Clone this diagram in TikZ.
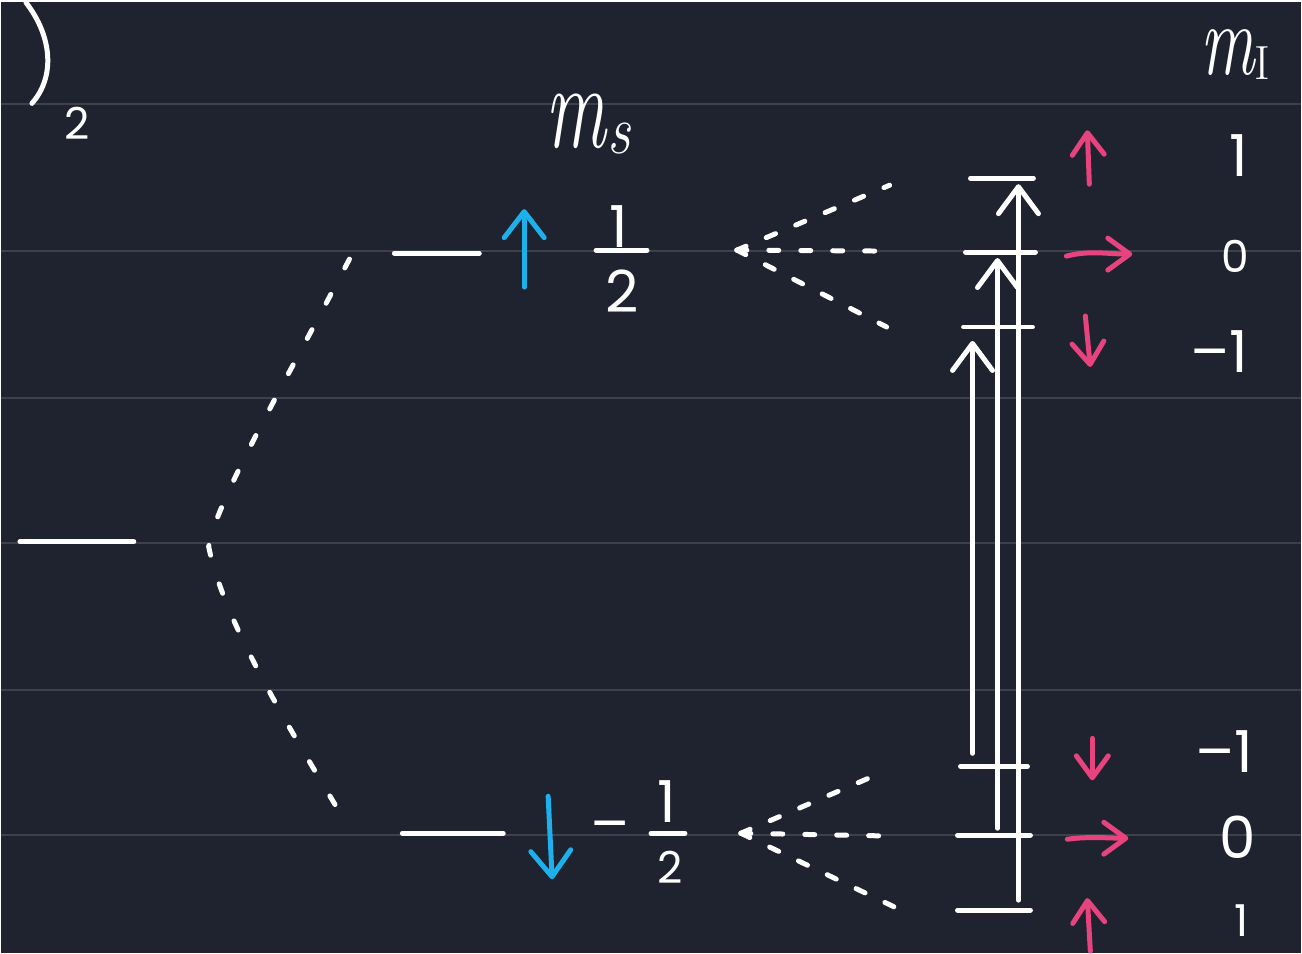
\documentclass[tikz,border=0pt]{standalone}
\usepackage{fontspec}
\setmainfont{Poppins}
\newfontfamily\mfont{Latin Modern Roman}
\usetikzlibrary{arrows.meta}
\definecolor{bg}{HTML}{1F2330}
\definecolor{ruleline}{HTML}{3D414C}
\definecolor{spinblue}{HTML}{1DB0EA}
\definecolor{nucpink}{HTML}{E6437F}
\begin{document}
\begin{tikzpicture}[x=1pt,y=-1pt,
  pen/.style={white,line width=5pt,line cap=round},
  lvl/.style={pen},
  dcurve/.style={pen,dash pattern=on 10pt off 30pt},
  dfan/.style={pen,dash pattern=on 10pt off 22pt},
  bighead/.style={-{Straight Barb[length=27pt,width=40pt,round]}},
  bluearrow/.style={spinblue,line width=5pt,line cap=round,-{Straight Barb[length=26pt,width=40pt,round]}},
  pinkarrow/.style={nucpink,line width=5pt,line cap=round,-{Straight Barb[length=22pt,width=32pt,round]}},
  txt/.style={text=white,inner sep=0pt,font=\fontsize{58}{60}\selectfont},
  small/.style={text=white,inner sep=0pt,font=\fontsize{44}{46}\selectfont},
  mlabel/.style={text=white,inner sep=0pt,font=\mfont}]
% background and ruled lines
\fill[bg] (0,0) rectangle (1302,952);
\foreach \yy in {102,249,396,541,689,834}
  \draw[ruleline,line width=2pt] (0,\yy) -- (1302,\yy);
% parenthesis and subscript
\draw[pen] (25,0) .. controls (52,35) and (54,75) .. (31,101);
\node[small] (two) at (76,121) {2};
% m_s and m_I
\node[mlabel] (ms) at (588,122) {\scalebox{1}[1.6]{\fontsize{76}{80}\selectfont\itshape m}\,\raisebox{-6pt}{\scalebox{1}[1.2]{\fontsize{58}{60}\selectfont\itshape s}}};
\node[mlabel] (mI) at (1236,52) {\scalebox{1}[1.5]{\fontsize{68}{70}\selectfont\itshape m}\raisebox{-5pt}{\fontsize{48}{48}\selectfont I}};
% left level
\draw[lvl] (19,540) -- (133,540);
% electron levels
\draw[lvl] (394,251) coordinate (up-l) -- (479,251) coordinate (up-r);
\draw[lvl] (402,832) coordinate (dn-l) -- (503,832) coordinate (dn-r);
% dashed splitting curve
\coordinate (ctop) at (349,257);
\coordinate (cmid) at (208,545);
\coordinate (cbot) at (349,828);
\draw[dcurve] (ctop) .. controls (290,370) and (215,500) .. (cmid)
                     .. controls (225,630) and (310,760) .. (cbot);
% blue spin arrows
\coordinate (bu0) at (524,285); \coordinate (bu1) at (524,207);
\draw[bluearrow] (bu0) -- (bu1);
\coordinate (bd0) at (548,795); \coordinate (bd1) at (552,878);
\draw[bluearrow] (bd0) -- (bd1);
% fractions
\node[txt] (half-1) at (619,224) {1};
\draw[pen] (596,248) -- (647,248);
\node[txt] (half-2) at (622,289) {2};
\node[txt] (mhalf-minus) at (610,832) {–};
\node[txt] (mhalf-1) at (667,800) {1};
\draw[pen] (651,832) -- (685,832);
\node[small] (mhalf-2) at (670,866) {2};
% hyperfine fans
\coordinate (fu) at (737,248);
\coordinate (fu1) at (890,183);
\coordinate (fu2) at (890,249);
\coordinate (fu3) at (887,325);
\draw[dfan] (fu) -- (fu1);
\draw[dfan] (fu) -- (fu2);
\draw[dfan] (fu) -- (fu3);
\coordinate (fd) at (741,832);
\coordinate (fd1) at (885,770);
\coordinate (fd2) at (900,835);
\coordinate (fd3) at (895,906);
\draw[dfan] (fd) -- (fd1);
\draw[dfan] (fd) -- (fd2);
\draw[dfan] (fd) -- (fd3);
% nuclear levels
\draw[lvl] (971,176) -- (1034,176);
\draw[lvl] (966,250) -- (1036,250);
\draw[lvl] (964,325) -- (1033,325);
\draw[lvl] (961,765) -- (1028,765);
\draw[lvl] (958,834) -- (1031,834);
\draw[lvl] (958,909) -- (1031,909);
% transitions
\coordinate (t1a) at (973,752); \coordinate (t1b) at (973,339);
\coordinate (t2a) at (998,827); \coordinate (t2b) at (998,256);
\coordinate (t3a) at (1019,899); \coordinate (t3b) at (1019,182);
\draw[pen,bighead] (t1a) -- (t1b);
\draw[pen,bighead] (t2a) -- (t2b);
\draw[pen,bighead] (t3a) -- (t3b);
% pink nuclear spin arrows
\draw[pinkarrow] (1090,182) -- (1088,128);
\draw[pinkarrow] (1067,254) .. controls (1090,248) and (1110,252) .. (1133,252);
\draw[pinkarrow] (1086,314) -- (1091,365);
\draw[pinkarrow] (1093,737) -- (1093,779);
\draw[pinkarrow] (1068,838) .. controls (1090,835) and (1110,837) .. (1129,837);
\draw[pinkarrow] (1091,950) -- (1088,897);
% m_I values
\node[txt] (mi-up-1) at (1240,153) {1};
\node[small] (mi-up-0) at (1236,254) {0};
\node[txt] (mi-up-m1) at (1220,350) {–1};
\node[txt] (mi-dn-m1) at (1225,750) {–1};
\node[txt] (mi-dn-0) at (1239,836) {0};
\node[small] (mi-dn-1) at (1242,920) {1};
\end{tikzpicture}
\end{document}
